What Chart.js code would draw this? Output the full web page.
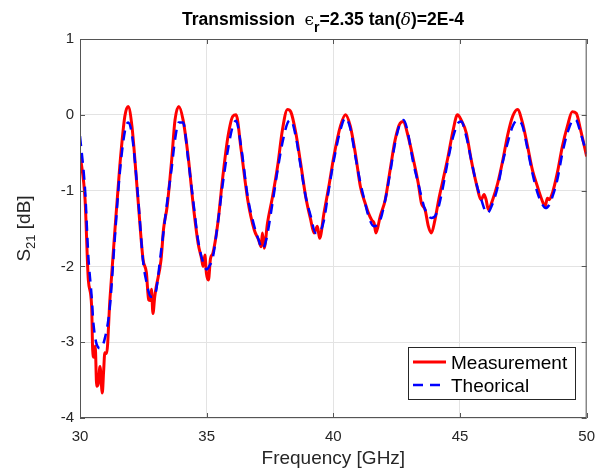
<!DOCTYPE html>
<html><head><meta charset="utf-8">
<script src="https://cdn.jsdelivr.net/npm/chart.js@4.4.0/dist/chart.umd.min.js"></script>
<style>html,body{margin:0;padding:0;background:#fff;}</style>
</head><body>
<canvas id="c" width="605" height="472" style="width:605px;height:472px;display:block"></canvas>
<script>
// ---- data ----
const measFreq = [30.0,30.05,30.2,30.33,30.46,30.5,30.55,30.6,30.66,30.72,30.79,30.88,30.93,30.98,31.05,31.18,31.37,31.57,31.77,31.9,32.05,32.29,32.49,32.62,32.71,32.78,32.82,32.88,32.95,33.01,33.2,33.3,33.44,33.62,33.75,33.9,34.07,34.27,34.46,34.66,34.8,34.86,34.93,34.99,35.07,35.15,35.25,35.44,35.64,35.84,36.03,36.16,36.36,36.62,36.88,37.05,37.15,37.2,37.27,37.4,37.6,37.8,37.99,38.19,38.32,38.52,38.71,38.91,39.11,39.24,39.37,39.46,39.63,39.82,40.02,40.28,40.48,40.67,40.87,41.07,41.26,41.39,41.52,41.61,41.68,41.85,42.05,42.24,42.44,42.64,42.77,42.92,43.16,43.35,43.48,43.62,43.75,43.87,44.01,44.16,44.33,44.53,44.73,44.9,45.05,45.25,45.44,45.64,45.84,45.95,46.03,46.12,46.29,46.49,46.69,46.88,47.08,47.27,47.47,47.67,47.86,48.06,48.23,48.36,48.45,48.52,48.65,48.84,49.04,49.24,49.43,49.59,49.76,50.0];
const measS21 = [-0.55,-0.64,-1.12,-2.18,-2.53,-3.1,-3.2,-3.05,-3.58,-3.55,-3.32,-3.67,-3.4,-3.14,-3.15,-2.44,-1.56,-0.68,-0.02,0.11,-0.15,-1.12,-1.91,-2.08,-2.44,-2.45,-2.3,-2.62,-2.4,-2.27,-1.91,-1.5,-1.21,-0.59,-0.07,0.11,-0.07,-0.55,-1.16,-1.69,-1.9,-2.0,-1.85,-2.09,-2.18,-1.9,-1.82,-1.43,-0.81,-0.29,-0.02,0.0,-0.46,-1.12,-1.52,-1.65,-1.74,-1.56,-1.76,-1.43,-1.08,-0.68,-0.2,0.07,0.04,-0.24,-0.64,-1.08,-1.39,-1.56,-1.47,-1.63,-1.3,-0.95,-0.55,-0.15,0.0,-0.15,-0.51,-0.95,-1.17,-1.3,-1.39,-1.43,-1.56,-1.34,-1.12,-0.73,-0.33,-0.11,-0.09,-0.24,-0.59,-0.9,-1.17,-1.25,-1.47,-1.56,-1.39,-1.12,-0.86,-0.55,-0.2,0.0,-0.07,-0.24,-0.59,-0.9,-1.12,-1.05,-1.12,-1.25,-1.12,-0.9,-0.6,-0.27,-0.02,0.07,-0.11,-0.42,-0.73,-0.95,-1.12,-1.21,-1.1,-1.12,-1.03,-0.77,-0.42,-0.15,0.04,0.02,-0.2,-0.55];
const theoFreq = [30.0,30.2,30.33,30.46,30.53,30.66,30.8,30.98,31.18,31.37,31.57,31.77,31.9,32.05,32.29,32.49,32.62,32.8,32.95,33.2,33.44,33.62,33.75,33.9,34.07,34.27,34.46,34.66,34.86,35.0,35.1,35.25,35.44,35.64,35.84,36.03,36.16,36.36,36.62,36.88,37.05,37.2,37.35,37.6,37.8,37.99,38.19,38.32,38.52,38.71,38.91,39.11,39.3,39.45,39.63,39.82,40.02,40.28,40.48,40.67,40.87,41.07,41.26,41.39,41.6,41.85,42.05,42.24,42.44,42.64,42.77,42.92,43.16,43.35,43.62,43.87,44.01,44.16,44.33,44.53,44.73,44.95,45.05,45.25,45.44,45.64,45.84,46.07,46.29,46.49,46.69,46.88,47.08,47.27,47.47,47.67,47.86,48.06,48.23,48.38,48.52,48.65,48.84,49.04,49.24,49.5,49.59,49.76,50.0];
const theoS21 = [-0.28,-0.99,-1.87,-2.4,-2.75,-3.03,-3.08,-2.95,-2.53,-1.65,-0.77,-0.22,-0.1,-0.26,-1.08,-1.93,-2.2,-2.4,-2.38,-1.8,-1.15,-0.7,-0.33,-0.1,-0.1,-0.59,-1.11,-1.65,-1.95,-2.04,-2.0,-1.87,-1.43,-0.9,-0.46,-0.15,-0.08,-0.42,-1.08,-1.47,-1.65,-1.77,-1.65,-1.16,-0.73,-0.37,-0.11,-0.07,-0.29,-0.68,-1.08,-1.34,-1.56,-1.55,-1.39,-0.99,-0.6,-0.2,-0.04,-0.18,-0.55,-0.9,-1.17,-1.34,-1.47,-1.39,-1.12,-0.77,-0.37,-0.11,-0.07,-0.2,-0.64,-0.9,-1.25,-1.36,-1.34,-1.21,-0.95,-0.59,-0.29,-0.1,-0.09,-0.29,-0.59,-0.9,-1.12,-1.3,-1.17,-0.95,-0.62,-0.37,-0.15,-0.07,-0.15,-0.46,-0.77,-1.03,-1.17,-1.23,-1.19,-1.08,-0.86,-0.51,-0.24,-0.06,-0.07,-0.24,-0.51];
const xTicks = [30,35,40,45,50];
const yTicks = [1,0,-1,-2,-3,-4];
const seriesNames = ['Measurement','Theorical'];
const xLabel = 'Frequency [GHz]';

const FONT = '"Liberation Sans", Arial, Helvetica, sans-serif';
const AXC = '#262626';

const measPts = measFreq.map((f,i)=>({x:f,y:measS21[i]}));
const theoPts = theoFreq.map((f,i)=>({x:f,y:theoS21[i]}));

const deco = {
  id:'deco',
  afterDatasetsDraw(chart){
    const ctx = chart.ctx, a = chart.chartArea;
    const xs = chart.scales.x, ys = chart.scales.y;
    ctx.save();
    // box
    ctx.strokeStyle = '#555';
    ctx.lineWidth = 1;
    ctx.strokeRect(a.left+0.5, a.top+0.5, a.right-a.left-1, a.bottom-a.top-1);
    // inner ticks
    ctx.beginPath();
    xTicks.forEach(v=>{const px=Math.round(xs.getPixelForValue(v))+0.5;
      ctx.moveTo(px,a.bottom); ctx.lineTo(px,a.bottom-5);
      ctx.moveTo(px,a.top); ctx.lineTo(px,a.top+5);});
    yTicks.forEach(v=>{const py=Math.round(ys.getPixelForValue(v))+0.5;
      ctx.moveTo(a.left,py); ctx.lineTo(a.left+5,py);
      ctx.moveTo(a.right,py); ctx.lineTo(a.right-5,py);});
    ctx.stroke();

    // legend
    const lx=408, ly=347, lw=167, lh=52;
    ctx.fillStyle='#fff'; ctx.fillRect(lx,ly,lw,lh);
    ctx.strokeStyle='#262626'; ctx.lineWidth=1;
    ctx.strokeRect(lx+0.5,ly+0.5,lw,lh);
    ctx.lineWidth=3; ctx.strokeStyle='#ff0000'; ctx.setLineDash([]);
    ctx.beginPath(); ctx.moveTo(413,362); ctx.lineTo(446,362); ctx.stroke();
    ctx.lineWidth=2.5; ctx.strokeStyle='#0000ff'; ctx.setLineDash([10,7]);
    ctx.beginPath(); ctx.moveTo(413,385); ctx.lineTo(446,385); ctx.stroke();
    ctx.setLineDash([]);
    ctx.fillStyle='#000'; ctx.font='19px '+FONT; ctx.textBaseline='alphabetic'; ctx.textAlign='left';
    ctx.fillText(seriesNames[0],451,368.5);
    ctx.fillText(seriesNames[1],451,392);

    // title with subscript
    let x = 182; const by = 24.5;
    const segs = [
      ['Transmission  ','bold 17.5px '+FONT,0],
      ['\u03F5','17px "DejaVu Serif", serif',0],
      ['r','bold 14px '+FONT,7],
      ['=2.35 tan(','bold 17.5px '+FONT,0],
      ['\u03B4','italic 17px "DejaVu Serif", serif',0],
      [')=2E-4','bold 17.5px '+FONT,0]
    ];
    ctx.fillStyle='#000';
    segs.forEach(s=>{ctx.font=s[1]; ctx.fillText(s[0],x,by+s[2]); x+=ctx.measureText(s[0]).width;});

    // x axis label
    ctx.fillStyle=AXC; ctx.font='19px '+FONT; ctx.textAlign='center';
    ctx.fillText(xLabel,(a.left+a.right)/2,464);

    // y axis label rotated with subscript
    ctx.translate(30,(a.top+a.bottom)/2);
    ctx.rotate(-Math.PI/2);
    ctx.textAlign='left';
    const p1='S', p2='21', p3=' [dB]';
    ctx.font='19px '+FONT; const w1=ctx.measureText(p1).width;
    ctx.font='13px '+FONT; const w2=ctx.measureText(p2).width;
    ctx.font='19px '+FONT; const w3=ctx.measureText(p3).width;
    let sx=-(w1+w2+w3)/2;
    ctx.font='19px '+FONT; ctx.fillText(p1,sx,0); sx+=w1;
    ctx.font='13px '+FONT; ctx.fillText(p2,sx,5); sx+=w2;
    ctx.font='19px '+FONT; ctx.fillText(p3,sx,0);
    ctx.restore();
  }
};

new Chart(document.getElementById('c'),{
  type:'line',
  data:{datasets:[
    {label:seriesNames[0],data:measPts,borderColor:'#ff0000',borderWidth:3,pointRadius:0,fill:false,tension:0,cubicInterpolationMode:'monotone',order:2},
    {label:seriesNames[1],data:theoPts,borderColor:'#0000ff',borderWidth:2.5,borderDash:[10,7],pointRadius:0,fill:false,cubicInterpolationMode:'monotone',order:1}
  ]},
  options:{
    responsive:false, animation:false, devicePixelRatio:1,
    layout:{padding:{top:39,right:15,bottom:0,left:0}},
    plugins:{legend:{display:false},title:{display:false},tooltip:{enabled:false}},
    scales:{
      x:{type:'linear',min:30,max:50,
        afterBuildTicks(s){s.ticks=xTicks.map(v=>({value:v}));},
        afterFit(s){s.height=54;},
        grid:{color:'#e3e3e3',drawTicks:false},
        border:{display:false},
        ticks:{color:AXC,font:{family:FONT,size:15},padding:10,maxRotation:0}},
      y:{type:'linear',min:-4,max:1,
        afterBuildTicks(s){s.ticks=yTicks.map(v=>({value:v}));},
        afterFit(s){s.width=80;},
        grid:{color:'#e3e3e3',drawTicks:false},
        border:{display:false},
        ticks:{color:AXC,font:{family:FONT,size:15},padding:6}}
    }
  },
  plugins:[deco]
});
</script>
</body></html>
